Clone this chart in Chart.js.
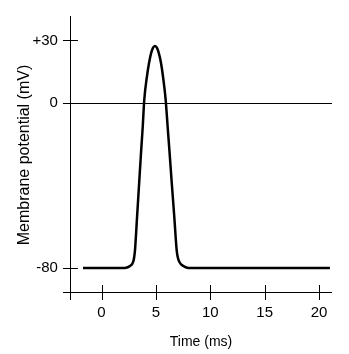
<!DOCTYPE html>
<html>
<head>
<meta charset="utf-8">
<script src="https://cdn.jsdelivr.net/npm/chart.js@4/dist/chart.umd.min.js"></script>
<style>
  html, body { margin: 0; padding: 0; background: #fff; }
  #wrap { width: 349px; height: 354px; }
</style>
</head>
<body>
<div id="wrap"><canvas id="chart" width="349" height="354"></canvas></div>
<script>
// Action potential trace (time in ms, potential in mV)
const timeMs = [-1.7, 1.24, 2.16, 2.62, 2.92, 3.01, 3.08, 3.27, 3.46, 3.65, 3.79, 3.93, 4.18, 4.37, 4.55, 4.73, 4.92,
                5.10, 5.28, 5.47, 5.65, 5.90, 6.08, 6.24, 6.46, 6.69, 6.91, 7.00, 7.15, 7.52, 7.98, 8.59, 21.0];
const potentialMv = [-80, -80, -79.9, -79.0, -76.9, -74.5, -71.3, -55.2, -39.0, -22.9, -11.7, 1.2, 12.7, 19.1, 23.6, 26.4, 27.3,
                     26.4, 23.6, 19.1, 12.7, 1.2, -11.7, -22.9, -39.0, -55.2, -71.3, -74.5, -76.9, -79.0, -79.9, -80, -80];

const xTicks = [0, 5, 10, 15, 20];
const yTicks = [30, 0, -80];
const yTickLabels = ['+30', '0', '-80'];

const xTitle = 'Time (ms)';
const yTitle = 'Membrane potential (mV)';

const FAMILY = '"Liberation Sans", Arial, sans-serif';

// axes are drawn by hand so the tick marks cross the lines like the original figure
const crossAxes = {
    id: 'crossAxes',
    beforeDatasetsDraw(chart) {
        const ctx = chart.ctx;
        const x = chart.scales.x;
        const y = chart.scales.y;
        const area = chart.chartArea;
        const axisX = x.getPixelForValue(-2.9);   // where the y axis sits
        const axisY = y.getPixelForValue(-91.55); // where the x axis sits

        ctx.save();
        ctx.strokeStyle = '#000';
        ctx.lineWidth = 1;
        ctx.beginPath();
        ctx.moveTo(Math.round(axisX) + 0.5, area.top);
        ctx.lineTo(Math.round(axisX) + 0.5, area.bottom);
        ctx.moveTo(area.left, Math.round(axisY) + 0.5);
        ctx.lineTo(area.right, Math.round(axisY) + 0.5);

        // zero line across the plot
        const zeroY = Math.round(y.getPixelForValue(0)) + 0.5;
        ctx.moveTo(area.left, zeroY);
        ctx.lineTo(area.right, zeroY);

        xTicks.forEach(v => {
            const px = Math.round(x.getPixelForValue(v)) + 0.5;
            ctx.moveTo(px, axisY - 7);
            ctx.lineTo(px, axisY + 8);
        });
        yTicks.forEach(v => {
            const py = Math.round(y.getPixelForValue(v)) + 0.5;
            ctx.moveTo(axisX - 7, py);
            ctx.lineTo(axisX + 8, py);
        });
        ctx.stroke();

        ctx.fillStyle = '#000';
        ctx.font = '15px ' + FAMILY;
        ctx.textAlign = 'center';
        ctx.textBaseline = 'middle';
        xTicks.forEach(v => {
            ctx.fillText(String(v), x.getPixelForValue(v), axisY + 21);
        });
        ctx.textAlign = 'right';
        yTicks.forEach((v, i) => {
            ctx.fillText(yTickLabels[i], axisX - 12, y.getPixelForValue(v));
        });

        ctx.font = '14px ' + FAMILY;
        ctx.textAlign = 'center';
        ctx.fillText(xTitle, 201, 342);

        ctx.font = '16px ' + FAMILY;
        ctx.textBaseline = 'alphabetic';
        ctx.translate(29, 155);
        ctx.rotate(-Math.PI / 2);
        ctx.fillText(yTitle, 0, 0);
        ctx.restore();
    }
};

new Chart(document.getElementById('chart'), {
    type: 'line',
    data: {
        datasets: [{
            data: timeMs.map((t, i) => ({ x: t, y: potentialMv[i] })),
            borderColor: '#000',
            borderWidth: 2.5,
            pointRadius: 0,
            fill: false,
            cubicInterpolationMode: 'monotone'
        }]
    },
    options: {
        responsive: false,
        animation: false,
        layout: {
            padding: { left: 63, right: 17, top: 16, bottom: 54 }
        },
        scales: {
            x: { type: 'linear', min: -3.54, max: 21.19, display: false },
            y: { type: 'linear', min: -95.41, max: 41.79, display: false }
        },
        plugins: {
            legend: { display: false },
            tooltip: { enabled: false }
        }
    },
    plugins: [crossAxes]
});
</script>
</body>
</html>
